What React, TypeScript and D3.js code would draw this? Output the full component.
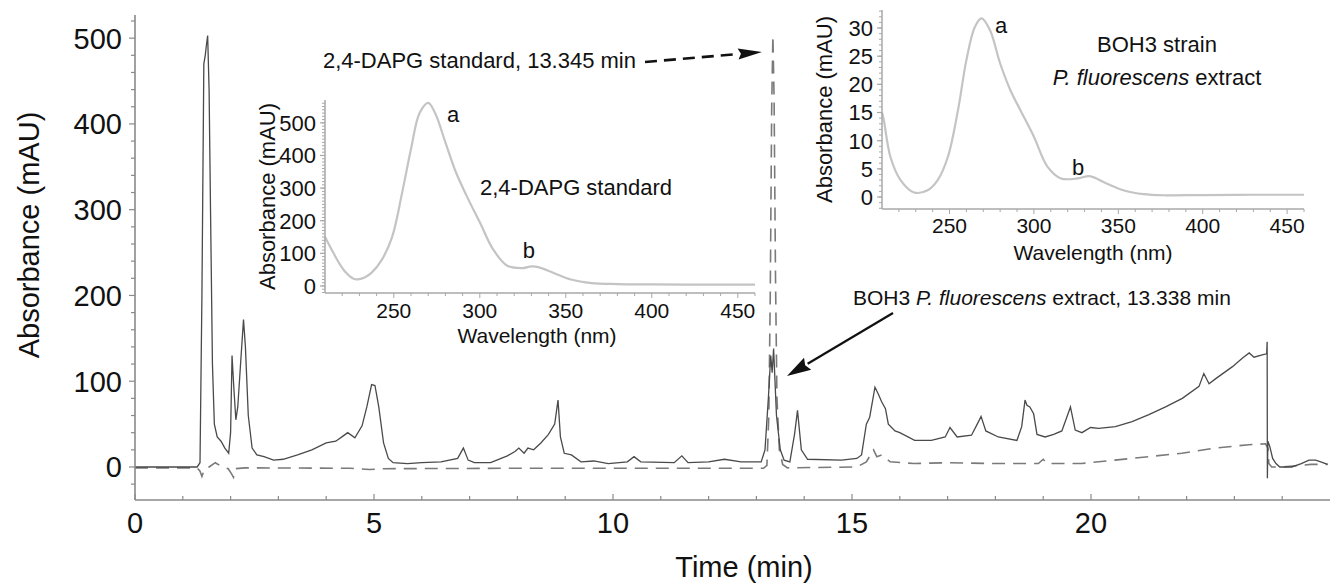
import React from "react";
import * as d3 from "d3";

// ---------- data ----------
const solidT = [0,1.3,1.36,1.4,1.44,1.47,1.49,1.52,1.55,1.58,1.62,1.66,1.72,1.8,1.88,1.96,2.0,2.03,2.07,2.11,2.15,2.22,2.27,2.31,2.37,2.45,2.55,2.7,2.9,3.1,3.4,3.7,4.0,4.2,4.35,4.45,4.6,4.75,4.85,4.95,5.02,5.1,5.2,5.3,5.4,5.7,6.0,6.4,6.75,6.87,6.97,7.1,7.44,7.79,7.95,8.03,8.14,8.22,8.34,8.49,8.65,8.78,8.85,8.9,8.98,9.13,9.33,9.6,9.9,10.3,10.44,10.58,11.28,11.44,11.57,12.0,12.33,12.68,13.1,13.18,13.25,13.3,13.33,13.36,13.42,13.5,13.58,13.7,13.8,13.86,13.94,14.07,14.78,15.1,15.2,15.3,15.37,15.48,15.55,15.62,15.7,15.76,15.9,16.0,16.31,16.66,16.95,17.05,17.2,17.5,17.62,17.7,17.8,18.06,18.45,18.55,18.62,18.66,18.72,18.8,18.87,19.04,19.22,19.39,19.52,19.57,19.67,19.81,19.99,20.16,20.51,20.86,21.21,21.56,21.91,22.26,22.36,22.47,22.61,22.96,23.17,23.31,23.41,23.6,23.675,23.685,23.69,23.70,23.74,23.8,23.87,23.95,24.2,24.4,24.56,24.7,24.85,24.95];
const solidV = [0,0,5,200,470,480,490,503,440,300,120,50,35,30,22,16,40,130,90,55,70,130,172,140,60,22,14,12,8,9,14,20,28,30,36,40,34,48,70,96,95,70,28,10,5,4,5,6,10,22,8,5,5,13,18,22,16,22,20,28,38,50,78,35,16,14,6,7,4,6,12,6,5,13,5,6,9,6,6,20,80,130,110,138,60,20,8,6,39,66,20,9,8,10,14,50,58,93,85,76,68,50,42,40,31,31,35,46,35,37,50,59,42,35,31,47,78,72,70,62,38,35,38,42,62,70,43,40,46,45,47,53,61,70,80,94,109,97,103,117,127,133,128,131,132,146,-13,30,24,10,4,0,0,4,8,8,5,3];

const dashT = [0,1.3,1.36,1.4,1.45,1.55,1.68,1.8,1.95,2.02,2.06,2.1,2.3,4.5,4.9,5.2,8,13.15,13.22,13.26,13.29,13.32,13.345,13.37,13.4,13.43,13.48,13.55,13.65,15.1,15.3,15.45,15.52,15.62,15.8,16.3,17,18,18.9,19.0,19.08,19.8,20.5,21.2,21.9,22.6,23.3,23.65,23.7,23.72,23.78,24.0,24.3,24.6,24.95];
const dashV = [-1,-1,-5,-11,-3,0,5,1,-2,-8,-12,-2,-1,-1.5,-3,-2,-1.5,-1.5,2,60,200,420,503,430,220,80,20,3,-1,0,6,20,12,14,6,4,5,4,4,9,4,4,8,12,16,22,26,27,22,4,0,0,1.5,3,3];

const wave1 = [210,214,218,222,226,229,233,237,243,249,255,260,265,270,274,280,286,292,300,308,316,325,330,334,343,353,365,380,400,430,460];
const abs1  = [151,110,72,42,24,20,26,40,80,150,290,420,530,561,530,440,350,280,195,110,62,55,60,58,40,20,9,6,5,4,4];

const wave2 = [210,211,215,221,229,237,243,249,255,260,265,269,274,280,286,292,300,308,316,326,333,343,353,365,378,400,430,460];
const abs2  = [15,13.8,7.1,3.0,0.8,1.2,3.0,7.1,15.4,24.3,30.2,31.7,29.6,23.7,19.0,15.4,10.7,5.4,3.3,3.3,3.7,2.4,1.2,0.5,0.3,0.35,0.4,0.4];

const mainXTicks = [0, 5, 10, 15, 20];
const mainYTicks = [0, 100, 200, 300, 400, 500];
const insetXTicks = [250, 300, 350, 400, 450];
const inset1YTicks = [0, 100, 200, 300, 400, 500];
const inset2YTicks = [0, 5, 10, 15, 20, 25, 30];

const FONT = "'Liberation Sans', Arial, Helvetica, sans-serif";
const W = 1331, H = 585;

// ---------- scales ----------
const xMain = d3.scaleLinear().domain([0, 25]).range([135, 1330]);
const yMain = d3.scaleLinear().domain([-38.5, 527]).range([500, 15]);

const x1 = d3.scaleLinear().domain([210, 460]).range([325, 755]);
const y1 = d3.scaleLinear().domain([-21.5, 570]).range([293, 100]);

const x2 = d3.scaleLinear().domain([210, 460]).range([882, 1304]);
const y2 = d3.scaleLinear().domain([-2.13, 33.2]).range([209, 10]);

function zip(a: number[], b: number[]): [number, number][] {
  return a.map((v, i) => [v, b[i]]);
}

function Arrow({ x0, y0, x1: xe, y1: ye, dashed, len, half, width }: any) {
  const ang = Math.atan2(ye - y0, xe - x0);
  const bx = xe - len * Math.cos(ang);
  const by = ye - len * Math.sin(ang);
  const px = -Math.sin(ang) * half;
  const py = Math.cos(ang) * half;
  return (
    <g>
      <line x1={x0} y1={y0} x2={bx} y2={by} stroke="#111" strokeWidth={width}
        strokeDasharray={dashed ? "12 7" : undefined} />
      <polygon points={`${xe},${ye} ${bx + px},${by + py} ${bx + len * 0.12 * Math.cos(ang)},${by + len * 0.12 * Math.sin(ang)} ${bx - px},${by - py}`} fill="#111" />
    </g>
  );
}

function Inset({ xs, ys, wave, abs, yTicks, yMinorStep, tickDy, labelDy, labelOffset }: any) {
  const [xa, xb] = xs.range();
  const [yb, ya] = ys.range();
  const line = d3.line<[number, number]>().x(d => xs(d[0])).y(d => ys(d[1])).curve(d3.curveCatmullRom.alpha(0.5));
  const [d0, d1] = ys.domain();
  const minorY = d3.range(Math.ceil(d0 / yMinorStep) * yMinorStep, d1, yMinorStep);
  const minorX = d3.range(220, 461, 10);
  const axisCol = "#a8a8a8";
  return (
    <g fontFamily={FONT}>
      <path d={line(zip(wave, abs)) || ""} fill="none" stroke="#c4c4c4" strokeWidth={2.2} />
      <line x1={xa} y1={ya} x2={xa} y2={yb} stroke={axisCol} strokeWidth={1.5} />
      <line x1={xa} y1={yb} x2={xb} y2={yb} stroke={axisCol} strokeWidth={1.5} />
      {minorY.map((v: number, i: number) => (
        <line key={"my" + i} x1={xa - 3} x2={xa} y1={ys(v)} y2={ys(v)} stroke={axisCol} strokeWidth={1} />
      ))}
      {yTicks.map((v: number) => (
        <g key={"yt" + v}>
          <line x1={xa - 5} x2={xa} y1={ys(v)} y2={ys(v)} stroke={axisCol} strokeWidth={1.2} />
          <text x={xa - 9} y={ys(v)} dy="0.36em" textAnchor="end" fontSize={22} fill="#111">{v}</text>
        </g>
      ))}
      {minorX.map((v: number) => (
        <line key={"mx" + v} x1={xs(v)} x2={xs(v)} y1={yb} y2={yb + (v % 50 === 0 ? 5 : 3)} stroke={axisCol} strokeWidth={1} />
      ))}
      {insetXTicks.map((v: number) => (
        <text key={"xt" + v} x={xs(v)} y={yb + tickDy} textAnchor="middle" fontSize={21} fill="#111">{v}</text>
      ))}
      <text x={(xa + xb) / 2 + labelOffset} y={yb + labelDy} textAnchor="middle" fontSize={21} fill="#111">Wavelength (nm)</text>
      <text transform={`translate(${xa - 58},${(ya + yb) / 2}) rotate(-90)`} dy="0.35em" textAnchor="middle" fontSize={22} fill="#111">Absorbance (mAU)</text>
    </g>
  );
}

export default function App() {
  const line = d3.line<[number, number]>().x(d => xMain(d[0])).y(d => yMain(d[1]));
  const solid = zip(solidT, solidV);
  const dashed = zip(dashT, dashV);
  const axisCol = "#8a8a8a";
  const minorX = d3.range(0, 25, 1);
  const minorY = d3.range(-20, 527, 20);

  return (
    <svg width={W} height={H} viewBox={`0 0 ${W} ${H}`}
      style={{ position: "absolute", left: 0, top: 0, background: "#fff" }}
      fontFamily={FONT}>
      <rect width={W} height={H} fill="#fff" />

      {/* main chromatogram */}
      <path d={line(dashed) || ""} fill="none" stroke="#7a7a7a" strokeWidth={1.6} strokeDasharray="13 8" />
      <path d={line(solid) || ""} fill="none" stroke="#4a4a4a" strokeWidth={1.3} />

      {/* main axes */}
      <line x1={135} y1={15} x2={135} y2={500} stroke={axisCol} strokeWidth={1.6} />
      <line x1={135} y1={500} x2={1330} y2={500} stroke={axisCol} strokeWidth={1.6} />
      {minorY.map(v => (
        <line key={"my" + v} x1={v % 100 === 0 ? 129 : 131} x2={135} y1={yMain(v)} y2={yMain(v)} stroke={axisCol} strokeWidth={1.2} />
      ))}
      {mainYTicks.map(v => (
        <text key={"yl" + v} x={122} y={yMain(v)} dy="0.36em" textAnchor="end" fontSize={29} fill="#111">{v}</text>
      ))}
      {minorX.map(v => (
        <line key={"mx" + v} x1={xMain(v)} x2={xMain(v)} y1={500} y2={v % 5 === 0 ? 494 : 496} stroke={axisCol} strokeWidth={1.2} />
      ))}
      {mainXTicks.map(v => (
        <text key={"xl" + v} x={xMain(v)} y={533} textAnchor="middle" fontSize={29} fill="#111">{v}</text>
      ))}
      <text x={744} y={577} textAnchor="middle" fontSize={29} fill="#111">Time (min)</text>
      <text transform="translate(29,235) rotate(-90)" dy="0.35em" textAnchor="middle" fontSize={29} fill="#111">Absorbance (mAU)</text>

      {/* insets */}
      <Inset xs={x1} ys={y1} wave={wave1} abs={abs1} yTicks={inset1YTicks} yMinorStep={10} tickDy={25} labelDy={50} labelOffset={-3} />
      <text x={x1(281)} y={y1(503)} fontSize={22} fill="#111">a</text>
      <text x={x1(325)} y={y1(86)} fontSize={22} fill="#111">b</text>
      <text x={480} y={195} fontSize={22} fill="#111">2,4-DAPG standard</text>

      <Inset xs={x2} ys={y2} wave={wave2} abs={abs2} yTicks={inset2YTicks} yMinorStep={1} tickDy={24} labelDy={51} labelOffset={0} />
      <text x={x2(277)} y={y2(29.1)} fontSize={22} fill="#111">a</text>
      <text x={x2(322.5)} y={y2(3.9)} fontSize={22} fill="#111">b</text>
      <text x={1157} y={52} textAnchor="middle" fontSize={22} fill="#111">BOH3 strain</text>
      <text x={1157} y={85} textAnchor="middle" fontSize={22} fill="#111">
        <tspan fontStyle="italic">P. fluorescens</tspan> extract
      </text>

      {/* annotations */}
      <text x={636} y={68} textAnchor="end" fontSize={22} fill="#111">2,4-DAPG standard, 13.345 min</text>
      <Arrow x0={645} y0={62} x1={762} y1={52} dashed len={24} half={5.5} width={2.6} />

      <text x={853} y={305} fontSize={21} fill="#111">
        BOH3 <tspan fontStyle="italic">P. fluorescens</tspan> extract, 13.338 min
      </text>
      <Arrow x0={893} y0={313} x1={787} y1={376} len={24} half={7} width={2.2} />
    </svg>
  );
}
